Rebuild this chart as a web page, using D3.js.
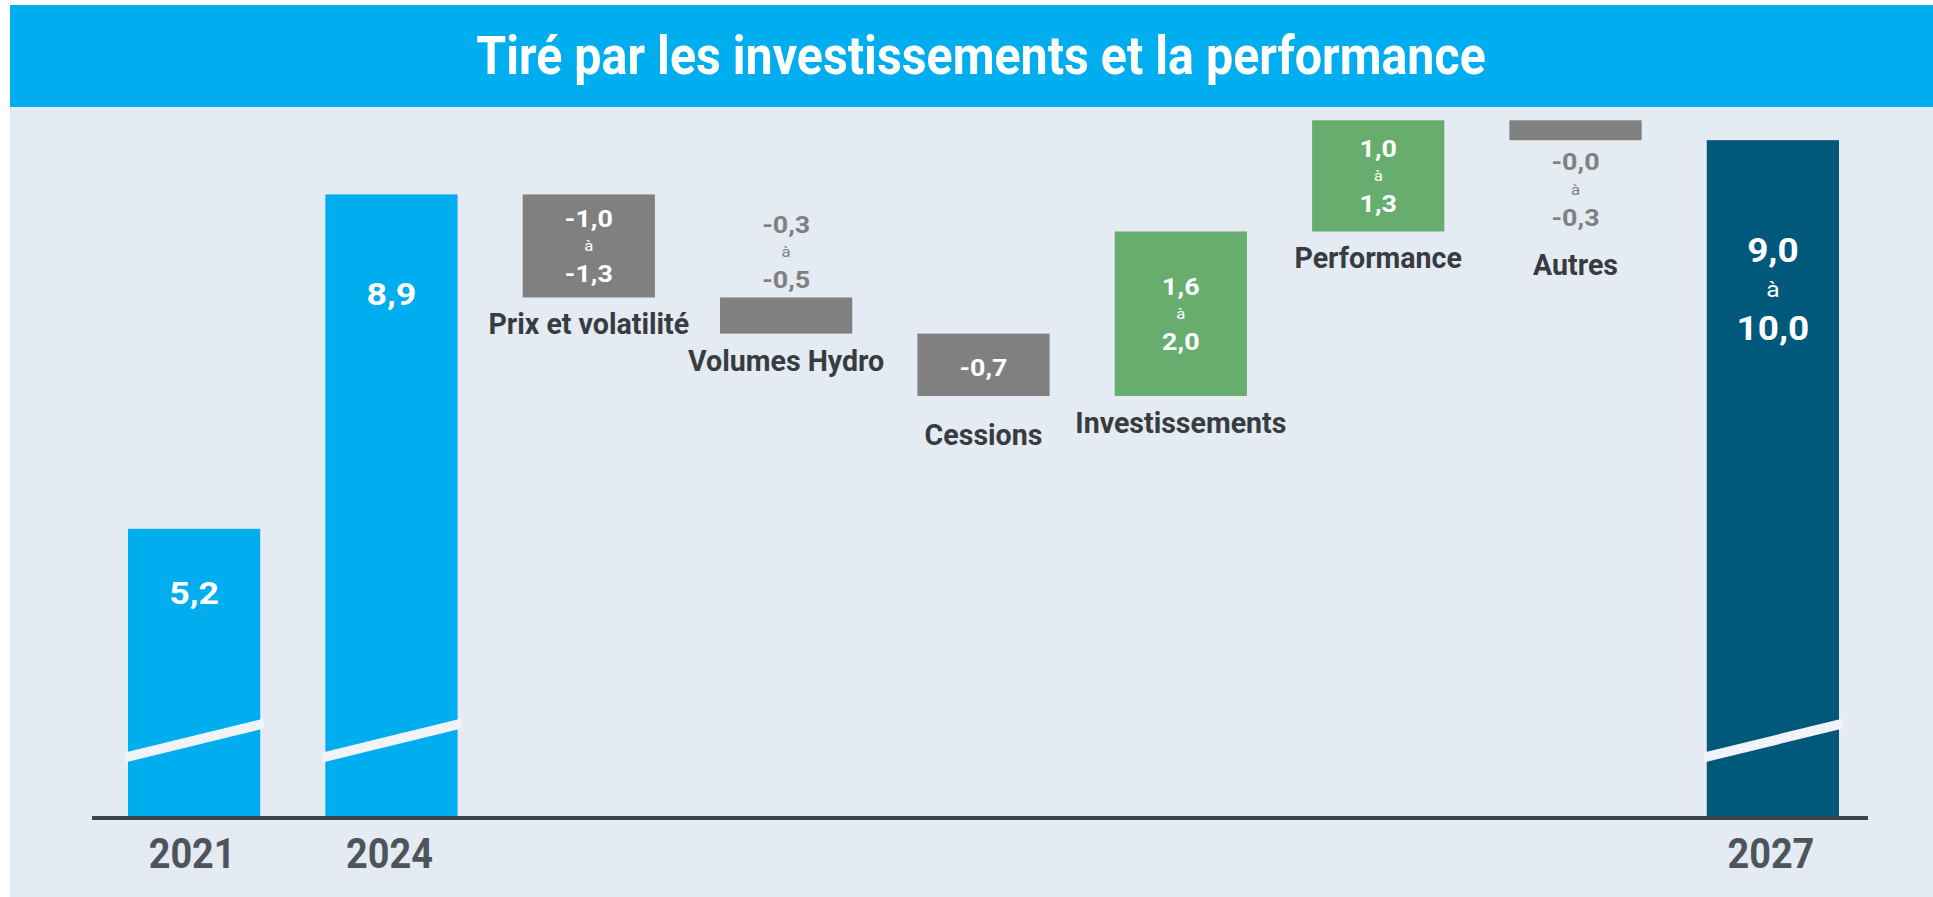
<!DOCTYPE html>
<html lang="fr">
<head>
<meta charset="UTF-8">
<script src="https://d3js.org/d3.v7.min.js"></script>
<title>Tiré par les investissements et la performance</title>
<style>
    body { margin: 0; background: #ffffff; }
    text { font-family: Roboto, 'Liberation Sans', sans-serif; font-weight: bold; }
</style>
</head>
<body>
<svg width="1933" height="897"></svg>
<script>
    const width = 1933, height = 897;

    // data
    const categories = ["2021", "2024", "Prix et volatilité", "Volumes Hydro", "Cessions",
                        "Investissements", "Performance", "Autres", "2027"];
    const years = ["2021", "2024", "2027"];
    const totals = [5.2, 8.9, 9.5];              // 2027 = milieu de la fourchette 9,0 à 10,0
    const totalLabels = [["5,2"], ["8,9"], ["9,0", "10,0"]];
    const stepNames = ["Prix et volatilité", "Volumes Hydro", "Cessions", "Investissements", "Performance", "Autres"];
    const steps = [-1.14, -0.40, -0.69, 1.82, 1.23, -0.22];  // hauteur
    const stepLabels = [["-1,0", "-1,3"], ["-0,3", "-0,5"], ["-0,7"], ["1,6", "2,0"], ["1,0", "1,3"], ["-0,0", "-0,3"]];
    const title = "Tiré par les investissements et la performance";

    const svg = d3.select("svg");

    // horizontal squeeze per kind of text (the original uses a condensed face)
    const SX = {title: 0.895, name: 0.985, year: 0.88, value: 1.12};

    function label(g, x, y, txt, size, color, kind, weight) {
        return g.append("text")
            .attr("transform", `translate(${x},${y}) scale(${SX[kind]},1)`)
            .attr("text-anchor", "middle")
            .style("font-size", size + "px")
            .style("font-weight", weight || "bold")
            .style("fill", color)
            .text(txt);
    }

    // background + title band
    svg.append("rect").attr("x", 10).attr("y", 5).attr("width", width - 10).attr("height", height - 5)
        .attr("fill", "#e4ebf2");
    svg.append("rect").attr("x", 10).attr("y", 5).attr("width", width - 10).attr("height", 102)
        .attr("fill", "#00aeef");
    label(svg, 981, 74, title, 54, "#ffffff", "title");

    const x = d3.scaleBand().domain(categories).range([128, 1839]).paddingInner(0.33).paddingOuter(0);
    const y = d3.scaleLinear().domain([2, 10]).range([818, 95]);
    const bw = x.bandwidth();

    const g = svg.append("g");

    // totals
    const totalColors = ["#00aeef", "#00aeef", "#00587a"];
    const totalDy = [75, 111, 122];
    years.forEach((yr, i) => {
        const x0 = x(yr), top = y(totals[i]);
        g.append("rect").attr("x", x0).attr("y", top).attr("width", bw).attr("height", y(2) - top)
            .attr("fill", totalColors[i]);
        // axis break
        const l = x0 - 3, r = x0 + bw + 4, yl = 757.5, yr2 = 723.5, t = 5;
        g.append("path")
            .attr("d", `M${l},${yl - t}L${r},${yr2 - t}L${r},${yr2 + t}L${l},${yl + t}Z`)
            .attr("fill", "#f2f3f8");
        const cx = x0 + bw / 2, b = top + totalDy[i];
        if (totalLabels[i].length === 1) {
            label(g, cx, b, totalLabels[i][0], 32, "#ffffff", "value");
        } else {
            label(g, cx, b, totalLabels[i][0], 33, "#ffffff", "value");
            label(g, cx, b + 35, "à", 22, "#ffffff", "value", "normal");
            label(g, cx, b + 78, totalLabels[i][1], 33, "#ffffff", "value");
        }
    });

    // steps
    const outside = {"Volumes Hydro": "above", "Autres": "below"};
    const nameDy = {"Cessions": 49, "Autres": 135};
    let level = totals[1];
    stepNames.forEach((name, i) => {
        const from = level, to = level + steps[i];
        level = to;
        const top = y(Math.max(from, to)), bot = y(Math.min(from, to));
        const x0 = x(name), cx = x0 + bw / 2;
        const fill = steps[i] > 0 ? "#67ae6e" : "#808080";
        g.append("rect").attr("x", x0).attr("y", top).attr("width", bw).attr("height", bot - top)
            .attr("fill", fill);

        const lab = stepLabels[i];
        if (lab.length === 1) {
            label(g, cx, (top + bot) / 2 + 11, lab[0], 24, "#ffffff", "value");
        } else {
            let b1, col = "#ffffff";
            if (outside[name] === "above") { b1 = top - 8.5 - 56; col = "#808080"; }
            else if (outside[name] === "below") { b1 = bot + 30; col = "#808080"; }
            else b1 = (top + bot) / 2 - 19;
            label(g, cx, b1, lab[0], 24, col, "value");
            label(g, cx, b1 + 24.5, "à", 15, col, "value", "normal");
            label(g, cx, b1 + 55.5, lab[1], 24, col, "value");
        }
        label(g, cx, bot + (nameDy[name] || 37), name, 29, "#373c41", "name");
    });

    // axis: only the years carry a label
    const axis = d3.axisBottom(x).tickSize(0).tickPadding(0)
        .tickFormat(d => years.includes(d) ? d : "");
    const ax = svg.append("g").attr("transform", "translate(0,818)").call(axis);
    ax.select(".domain").remove();
    ax.selectAll(".tick text")
        .attr("y", 0).attr("dy", 0)
        .attr("transform", `translate(-2,50) scale(${SX.year},1)`)
        .style("font-size", "43px")
        .style("fill", "#4d545b");
    svg.append("line").attr("x1", 92).attr("x2", 1868).attr("y1", 818).attr("y2", 818)
        .attr("stroke", "#3d4247").attr("stroke-width", 4);
</script>
</body>
</html>
